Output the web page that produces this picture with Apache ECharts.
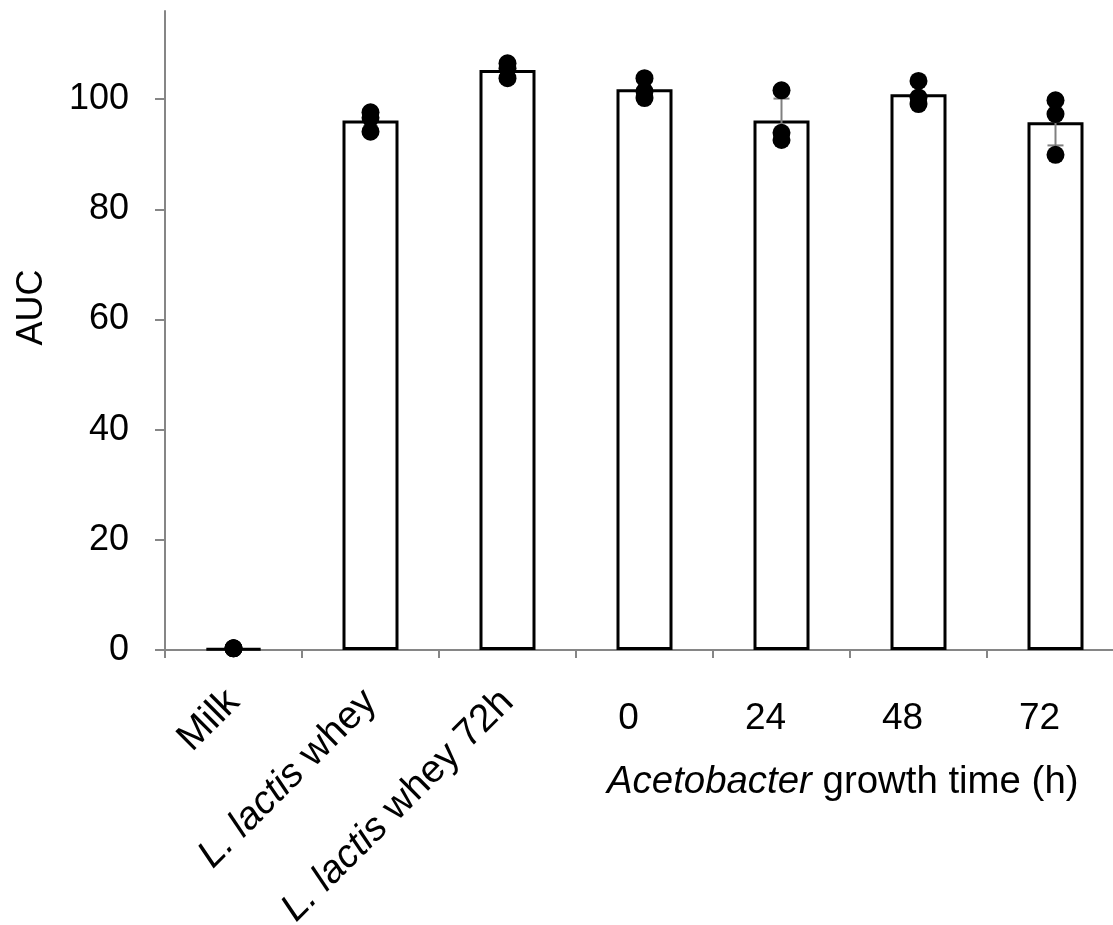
<!DOCTYPE html>
<html><head><meta charset="utf-8">
<script src="https://cdn.jsdelivr.net/npm/echarts@6/dist/echarts.min.js"></script>
<style>html,body{margin:0;padding:0;background:#fff}#c{width:1113px;height:925px}</style>
</head><body><div id="c"></div>
<script>
// ---- data ----
const categories = ['Milk', 'L. lactis whey', 'L. lactis whey 72h', '0', '24', '48', '72'];
const categoryLabels = ['Milk', '{i|L. lactis} whey', '{i|L. lactis} whey 72h', '0', '24', '48', '72'];
const means = [0.3, 96.1, 105.3, 101.8, 96.1, 100.9, 95.8];
const sds = [0, 1.5, 1.1, 1.5, 4.0, 1.8, 4.2];
const replicates = [
  [0.3, 0.3, 0.3],
  [97.6, 96.6, 94.1],
  [106.5, 105.6, 103.8],
  [103.8, 101.4, 100.2],
  [101.6, 93.9, 92.6],
  [103.3, 100.3, 99.1],
  [99.8, 97.3, 89.9]
];
const yTicks = [0, 20, 40, 60, 80, 100];
const yMax = 116;
const yTitle = 'AUC';
const xTitle = '{i|Acetobacter} growth time (h)';

// ---- build chart ----
const FONT = 'Liberation Sans, Arial, sans-serif';
const FS = 36;
const FSX = 39;
const FST = 38.4;
const scatterData = [];
replicates.forEach((arr, i) => arr.forEach(v => scatterData.push([i, v])));
const errData = means.map((m, i) => [i, m, sds[i]]);

const gridBox = {left: 165, width: 959, top: 11, bottom: 275, containLabel: false, outerBoundsMode: 'none'};
const chart = echarts.init(document.getElementById('c'), null, {renderer: 'canvas'});
chart.setOption({
  animation: false,
  backgroundColor: '#fff',
  title: {
    text: xTitle, left: 602, top: 758,
    textStyle: {fontFamily: FONT, fontSize: FST, fontWeight: 'normal', color: '#000',
      rich: {i: {fontFamily: FONT, fontSize: FST, fontStyle: 'italic', color: '#000'}}}
  },
  grid: [Object.assign({}, gridBox), Object.assign({}, gridBox)],
  xAxis: [{
    type: 'category', gridIndex: 0, data: categories, boundaryGap: true,
    axisLine: {show: true, lineStyle: {color: '#868686', width: 2}},
    axisTick: {show: true, length: 8, inside: false, alignWithLabel: false, lineStyle: {color: '#868686', width: 2}},
    axisLabel: {
      rotate: 45, margin: 46, interval: 0, color: '#000', fontFamily: FONT, fontSize: FSX,
      padding: [0, 0, 0, 16],
      formatter: (v, idx) => idx < 3 ? categoryLabels[idx] : '',
      rich: {i: {fontFamily: FONT, fontSize: FSX, fontStyle: 'italic', color: '#000'}}
    },
    splitLine: {show: false}
  }, {
    type: 'category', gridIndex: 1, data: categories, boundaryGap: true,
    axisLine: {show: false}, axisTick: {show: false}, splitLine: {show: false},
    axisLabel: {
      rotate: 0, margin: 50, interval: 0, color: '#000', fontFamily: FONT, fontSize: 37,
      padding: [0, 32, 0, 0],
      formatter: (v, idx) => idx >= 3 ? categoryLabels[idx] : ''
    }
  }],
  yAxis: [{
    type: 'value', gridIndex: 0, min: 0, max: yMax, interval: 20,
    name: yTitle, nameLocation: 'middle', nameGap: 115, nameRotate: 90,
    nameTextStyle: {fontFamily: FONT, fontSize: FS, color: '#000', padding: [0, 0, 0, 46]},
    axisLine: {show: true, lineStyle: {color: '#868686', width: 2}},
    axisTick: {show: true, length: 10, inside: false, customValues: yTicks, lineStyle: {color: '#868686', width: 2}},
    axisLabel: {show: true, margin: 36, customValues: yTicks, color: '#000', fontFamily: FONT, fontSize: FS},
    splitLine: {show: false}
  }, {
    type: 'value', gridIndex: 1, min: 0, max: yMax, show: false, splitLine: {show: false}
  }],
  series: [{
    type: 'bar', xAxisIndex: 0, yAxisIndex: 0, data: means, barWidth: 56, z: 2,
    itemStyle: {color: '#fff', borderColor: '#000', borderWidth: 3}
  }, {
    type: 'custom', xAxisIndex: 0, yAxisIndex: 0, data: errData, z: 3,
    renderItem: function (params, api) {
      const x = api.value(0), m = api.value(1), s = api.value(2);
      const t = api.coord([x, m + s]);
      const b = api.coord([x, m - s]);
      const hw = 8;
      const st = {stroke: '#808080', lineWidth: 2};
      return {type: 'group', children: [
        {type: 'line', shape: {x1: t[0], y1: t[1], x2: b[0], y2: b[1]}, style: st},
        {type: 'line', shape: {x1: t[0] - hw, y1: t[1], x2: t[0] + hw, y2: t[1]}, style: st},
        {type: 'line', shape: {x1: b[0] - hw, y1: b[1], x2: b[0] + hw, y2: b[1]}, style: st}
      ]};
    }
  }, {
    type: 'scatter', xAxisIndex: 0, yAxisIndex: 0, data: scatterData, z: 4,
    symbol: 'circle', symbolSize: 18, itemStyle: {color: '#000', opacity: 1}
  }]
});
</script>
</body></html>
